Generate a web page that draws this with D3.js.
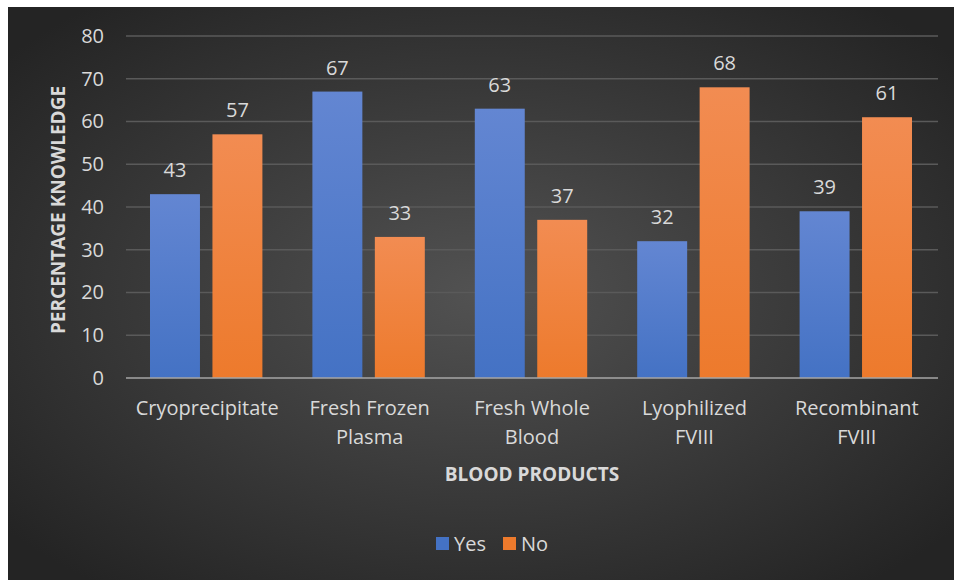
<!DOCTYPE html>
<html>
<head>
<meta charset="utf-8">
<script src="https://cdn.jsdelivr.net/npm/d3@7"></script>
<style>
  body { margin: 0; background: #fff; }
  svg { display: block; }
</style>
</head>
<body>
<script>
// data
var categories = ['Cryoprecipitate', 'Fresh Frozen|Plasma', 'Fresh Whole|Blood', 'Lyophilized|FVIII', 'Recombinant|FVIII'];
var seriesNames = ['Yes', 'No'];
var yesValues = [43, 67, 63, 32, 39];
var noValues = [57, 33, 37, 68, 61];
var yTicks = [0, 10, 20, 30, 40, 50, 60, 70, 80];

var W = 954, H = 580;
var font = '"Open Sans", Lato, sans-serif';
var textCol = '#d9d9d9';

var svg = d3.select('body').append('svg')
    .attr('width', W)
    .attr('height', H);

var defs = svg.append('defs');
var bg = defs.append('radialGradient').attr('id', 'bg')
    .attr('cx', '50%').attr('cy', '50%').attr('r', '65%');
bg.append('stop').attr('offset', '0%').attr('stop-color', '#525252');
bg.append('stop').attr('offset', '100%').attr('stop-color', '#242424');

var gradCols = { Yes: ['#6386d2', '#4472c4'], No: ['#f28c52', '#ed7a2c'] };
seriesNames.forEach(function(s) {
  var g = defs.append('linearGradient').attr('id', 'g' + s)
      .attr('x1', 0).attr('y1', 0).attr('x2', 0).attr('y2', 1);
  g.append('stop').attr('offset', '0%').attr('stop-color', gradCols[s][0]);
  g.append('stop').attr('offset', '100%').attr('stop-color', gradCols[s][1]);
});

// dark chart area
svg.append('rect')
    .attr('x', 8).attr('y', 7)
    .attr('width', W - 8).attr('height', H - 7)
    .attr('fill', 'url(#bg)');

var plotL = 126, plotR = 938, plotT = 36, plotB = 378;

var x = d3.scaleBand()
    .domain(categories)
    .range([plotL, plotR])
    .paddingInner(0)
    .paddingOuter(0);

var xs = d3.scaleBand()
    .domain(seriesNames)
    .range([24, x.bandwidth() - 26])
    .paddingInner(0.2);

var y = d3.scaleLinear()
    .domain([0, 80])
    .range([plotB, plotT]);

// gridlines
svg.append('g')
  .selectAll('line')
  .data(yTicks.slice(1))
  .enter()
  .append('line')
    .attr('x1', plotL).attr('x2', plotR)
    .attr('y1', function(d) { return y(d); })
    .attr('y2', function(d) { return y(d); })
    .attr('stroke', '#5a5a5a')
    .attr('stroke-width', 1.3);

// y axis labels
var yAxis = svg.append('g')
    .attr('transform', 'translate(' + (plotL - 22) + ',0)')
    .call(d3.axisLeft(y).tickValues(yTicks).tickSize(0).tickPadding(0));
yAxis.select('.domain').remove();
yAxis.selectAll('text')
    .attr('fill', textCol)
    .style('font-family', font)
    .style('font-size', '20px');

var rows = categories.map(function(c, i) {
  return { cat: c, values: [{ s: 'Yes', v: yesValues[i] }, { s: 'No', v: noValues[i] }] };
});

var groups = svg.selectAll('g.cat')
    .data(rows)
    .enter()
    .append('g')
    .attr('class', 'cat')
    .attr('transform', function(d) { return 'translate(' + x(d.cat) + ',0)'; });

groups.selectAll('rect')
    .data(function(d) { return d.values; })
    .enter()
    .append('rect')
    .attr('x', function(d) { return xs(d.s); })
    .attr('width', xs.bandwidth())
    .attr('y', function(d) { return y(d.v); })
    .attr('height', function(d) { return y(0) - y(d.v); })
    .attr('fill', function(d) { return 'url(#g' + d.s + ')'; });

groups.selectAll('text.val')
    .data(function(d) { return d.values; })
    .enter()
    .append('text')
    .attr('class', 'val')
    .attr('x', function(d) { return xs(d.s) + xs.bandwidth() / 2; })
    .attr('y', function(d) { return y(d.v) - 17; })
    .attr('text-anchor', 'middle')
    .attr('fill', textCol)
    .style('font-family', font)
    .style('font-size', '20px')
    .text(function(d) { return d.v; });

// baseline
svg.append('line')
    .attr('x1', plotL).attr('x2', plotR)
    .attr('y1', y(0)).attr('y2', y(0))
    .attr('stroke', '#a6a6a6')
    .attr('stroke-width', 1.5);

// x category labels (two lines)
var xAxis = svg.append('g')
    .attr('transform', 'translate(0,' + plotB + ')')
    .call(d3.axisBottom(x).tickSize(0).tickFormat(''));
xAxis.select('.domain').remove();
xAxis.selectAll('.tick').each(function(c) {
  var t = d3.select(this).append('text')
      .attr('text-anchor', 'middle')
      .attr('fill', textCol)
      .style('font-family', font)
      .style('font-size', '20px');
  c.split('|').forEach(function(part, i) {
    t.append('tspan').attr('x', 0).attr('y', 37 + i * 29).text(part);
  });
});

// axis titles
svg.append('text')
    .attr('x', (plotL + plotR) / 2)
    .attr('y', 481)
    .attr('text-anchor', 'middle')
    .attr('fill', textCol)
    .style('font-family', font)
    .style('font-weight', 'bold')
    .style('font-size', '19px')
    .text('BLOOD PRODUCTS');

svg.append('text')
    .attr('transform', 'translate(65,' + ((plotT + plotB) / 2 + 3) + ') rotate(-90)')
    .attr('text-anchor', 'middle')
    .attr('fill', textCol)
    .style('font-family', font)
    .style('font-weight', 'bold')
    .style('font-size', '19px')
    .text('PERCENTAGE KNOWLEDGE');

// legend
var legend = svg.append('g').attr('transform', 'translate(436,544)');
var legX = [0, 67];
seriesNames.forEach(function(s, i) {
  legend.append('rect')
      .attr('x', legX[i]).attr('y', -7)
      .attr('width', 13).attr('height', 13)
      .attr('fill', gradCols[s][1]);
  legend.append('text')
      .attr('x', legX[i] + 18).attr('y', 7)
      .attr('fill', textCol)
      .style('font-family', font)
      .style('font-size', '20px')
      .text(s);
});
</script>
</body>
</html>
